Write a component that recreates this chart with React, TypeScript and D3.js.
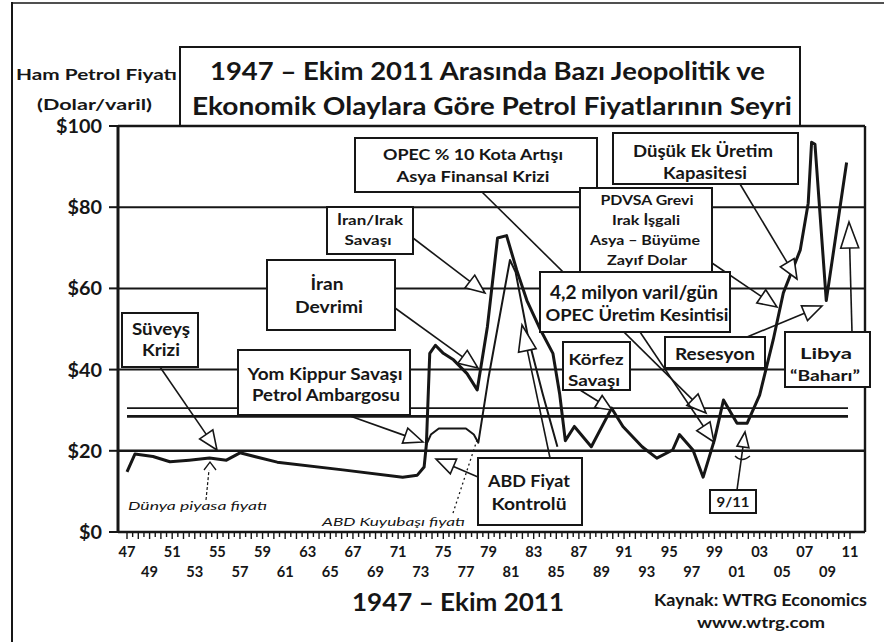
import React from 'react';
import * as d3 from 'd3';

// ---- data ----
const MAIN_YEARS = [
  1947.0, 1947.7, 1949.3, 1950.8, 1952.5, 1954.3, 1955.8, 1957.0, 1960.3, 1966.1,
  1971.4, 1972.7, 1973.3, 1973.5, 1973.8, 1974.3, 1975.0, 1975.9, 1977.1, 1978.0,
  1978.9, 1979.8, 1980.6, 1981.5, 1982.4, 1983.6, 1984.7, 1985.3, 1985.8, 1986.6,
  1988.1, 1989.9, 1990.9, 1992.6, 1993.9, 1995.3, 1995.9, 1997.1, 1998.0, 1999.0,
  1999.8, 2001.0, 2001.9, 2003.0, 2004.2, 2005.1, 2006.6, 2007.3, 2007.6, 2007.9,
  2008.9, 2010.7,
];
const MAIN_PRICES = [
  14.8, 19.2, 18.6, 17.3, 17.7, 18.2, 17.7, 19.5, 17.2, 15.3,
  13.5, 14.0, 16.0, 21.5, 44.0, 46.0, 44.0, 42.4, 39.0, 35.0,
  50.5, 72.4, 73.0, 64.5, 57.0, 49.8, 44.0, 34.0, 22.5, 26.0,
  21.0, 30.5, 26.0, 21.0, 18.2, 20.2, 24.0, 20.2, 13.5, 22.7,
  32.5, 26.8, 26.8, 33.7, 47.3, 58.9, 69.5, 81.0, 96.0, 95.5,
  57.0, 91.0,
];
// ABD kuyubaşı (wellhead) price
const WELL_YEARS = [1973.5, 1973.9, 1974.6, 1977.0, 1977.7, 1978.1, 1979.0, 1980.9, 1981.4, 1982.5, 1983.8, 1984.6, 1985.1];
const WELL_PRICES = [21.5, 24.0, 25.5, 25.5, 24.0, 22.0, 38.0, 67.0, 64.0, 48.0, 34.0, 26.0, 21.0];

const Y_TICKS = [0, 20, 40, 60, 80, 100];
const Y_TICK_LABELS = ['$0', '$20', '$40', '$60', '$80', '$100'];
const GRID_VALUES = [20, 40, 60, 80];
const BAND_VALUES = [28.5, 30.5];
const X_TOP_LABELS = ['47', '51', '55', '59', '63', '67', '71', '75', '79', '83', '87', '91', '95', '99', '03', '07', '11'];
const X_BOTTOM_LABELS = ['49', '53', '57', '61', '65', '69', '73', '77', '81', '85', '89', '93', '97', '01', '05', '09'];

const TITLE_LINES = [
  '1947 – Ekim 2011 Arasında Bazı Jeopolitik ve',
  'Ekonomik Olaylara Göre Petrol Fiyatlarının Seyri',
];

const FONT = "Lato, 'Open Sans', 'DejaVu Sans', sans-serif";
const INK = '#161616';

const labelYear = (l: string) => (+l < 40 ? 2000 + +l : 1900 + +l);

type Line = { t: string; x: number; y: number; w: number; fs: number };

function Box({ x, y, w, h, lines, sw = 2 }: { x: number; y: number; w: number; h: number; lines: Line[]; sw?: number }) {
  return (
    <g>
      <rect x={x} y={y} width={w} height={h} fill="#fff" stroke={INK} strokeWidth={sw} />
      {lines.map((l, i) => (
        <text key={i} x={l.x} y={l.y} textAnchor="middle" fontSize={l.fs} fontWeight={700}
          textLength={l.w} lengthAdjust="spacingAndGlyphs" fill={INK}>{l.t}</text>
      ))}
    </g>
  );
}

function Arrow({ x1, y1, x2, y2, head = 19, hw = 8, sw = 1.6 }: { x1: number; y1: number; x2: number; y2: number; head?: number; hw?: number; sw?: number }) {
  const dx = x2 - x1, dy = y2 - y1;
  const L = Math.hypot(dx, dy);
  const ux = dx / L, uy = dy / L;
  const bx = x2 - ux * head, by = y2 - uy * head;
  const px = -uy, py = ux;
  const pts = `${x2},${y2} ${bx + px * hw},${by + py * hw} ${bx - px * hw},${by - py * hw}`;
  return (
    <g>
      <line x1={x1} y1={y1} x2={bx} y2={by} stroke={INK} strokeWidth={sw} />
      <polygon points={pts} fill="#fff" stroke={INK} strokeWidth={sw} strokeLinejoin="miter" />
    </g>
  );
}

export default function App() {
  const W = 884, H = 642;
  const left = 118, right = 865, top = 126, bottom = 532;
  const x = d3.scaleLinear().domain([1947, 2011]).range([127, 850]);
  const y = d3.scaleLinear().domain([0, 100]).range([bottom, top]);

  const lineGen = d3.line<[number, number]>().x(d => x(d[0])).y(d => y(d[1]));
  const mainPath = lineGen(MAIN_YEARS.map((yr, i) => [yr, MAIN_PRICES[i]] as [number, number])) || '';
  const wellPath = lineGen(WELL_YEARS.map((yr, i) => [yr, WELL_PRICES[i]] as [number, number])) || '';

  const halfYearTicks = d3.range(1947, 2011.01, 0.5);

  return (
    <svg width={W} height={H} viewBox={`0 0 ${W} ${H}`}
      style={{ position: 'absolute', left: 0, top: 0, background: '#fff', fontFamily: FONT }}>
      <rect x={0} y={0} width={W} height={H} fill="#fff" />
      {/* outer frame */}
      <line x1={12} y1={2} x2={12} y2={H} stroke={INK} strokeWidth={2} />
      <line x1={12} y1={3} x2={W} y2={3} stroke={INK} strokeWidth={1.5} />

      {/* y-axis title */}
      <text x={16} y={80} fontSize={16} fontWeight={700} textLength={161} lengthAdjust="spacingAndGlyphs" fill={INK}>Ham Petrol Fiyatı</text>
      <text x={37} y={110} fontSize={16} fontWeight={700} textLength={115} lengthAdjust="spacingAndGlyphs" fill={INK}>(Dolar/varil)</text>

      {/* title box */}
      <rect x={180} y={47} width={620} height={79} fill="#fff" stroke={INK} strokeWidth={2} />
      <text x={210} y={80} fontSize={25} fontWeight={700} textLength={555} lengthAdjust="spacingAndGlyphs" fill={INK}>{TITLE_LINES[0]}</text>
      <text x={192} y={115} fontSize={25} fontWeight={700} textLength={600} lengthAdjust="spacingAndGlyphs" fill={INK}>{TITLE_LINES[1]}</text>

      {/* grid lines */}
      {GRID_VALUES.map(v => (
        <line key={v} x1={left} x2={right} y1={y(v)} y2={y(v)} stroke={INK} strokeWidth={v === 20 ? 2.6 : 2} />
      ))}
      {BAND_VALUES.map((v, i) => (
        <line key={'b' + v} x1={127} x2={848} y1={y(v)} y2={y(v)} stroke={INK} strokeWidth={i === 0 ? 2.8 : 1.8} />
      ))}

      {/* y ticks + labels */}
      {Y_TICKS.map((v, i) => (
        <g key={v}>
          <line x1={109} x2={left} y1={y(v)} y2={y(v)} stroke={INK} strokeWidth={2} />
          <text x={102} y={y(v) + 7} textAnchor="end" fontSize={19} fontWeight={700} fill={INK}
            textLength={Y_TICK_LABELS[i].length * 11.5} lengthAdjust="spacingAndGlyphs">{Y_TICK_LABELS[i]}</text>
        </g>
      ))}

      {/* x ticks */}
      {halfYearTicks.map(t => (
        <line key={t} x1={x(t)} x2={x(t)} y1={bottom + 1} y2={bottom + (t % 1 === 0 ? 7 : 5)} stroke={INK} strokeWidth={1.4} />
      ))}
      {X_TOP_LABELS.map(l => (
        <text key={'t' + l} x={x(labelYear(l))} y={557} textAnchor="middle" fontSize={15} fontWeight={700} fill={INK}
          textLength={17} lengthAdjust="spacingAndGlyphs">{l}</text>
      ))}
      {X_BOTTOM_LABELS.map(l => (
        <text key={'b' + l} x={x(labelYear(l))} y={577} textAnchor="middle" fontSize={15} fontWeight={700} fill={INK}
          textLength={17} lengthAdjust="spacingAndGlyphs">{l}</text>
      ))}

      {/* data lines */}
      <path d={wellPath} fill="none" stroke={INK} strokeWidth={2} strokeLinejoin="round" />
      <path d={mainPath} fill="none" stroke={INK} strokeWidth={3} strokeLinejoin="round" />

      {/* plot frame */}
      <line x1={left} x2={right} y1={top} y2={top} stroke={INK} strokeWidth={2.6} />
      <line x1={right} x2={right} y1={top} y2={bottom} stroke={INK} strokeWidth={2.4} />
      <line x1={left} x2={right} y1={bottom} y2={bottom} stroke={INK} strokeWidth={2.6} />
      <line x1={left} x2={left} y1={top - 1} y2={bottom + 1} stroke={INK} strokeWidth={3} />

      {/* pointer labels */}
      <text x={128} y={510} fontSize={12} fontStyle="italic" textLength={139} lengthAdjust="spacingAndGlyphs" fill={INK}>Dünya piyasa fiyatı</text>
      <line x1={206} y1={500} x2={209} y2={470} stroke={INK} strokeWidth={1.2} strokeDasharray="3,2" />
      <path d="M204 470 L210 462 L216 470" fill="none" stroke={INK} strokeWidth={1.3} />
      <text x={322} y={526} fontSize={12} fontStyle="italic" textLength={143} lengthAdjust="spacingAndGlyphs" fill={INK}>ABD Kuyubaşı fiyatı</text>
      <line x1={453} y1={513} x2={477} y2={440} stroke={INK} strokeWidth={1.3} strokeDasharray="2,3" />

      {/* arrows */}
      <Arrow x1={160} y1={367} x2={217} y2={450} />
      <Arrow x1={350} y1={416} x2={423} y2={442} />
      <Arrow x1={395} y1={308} x2={478} y2={368} />
      <Arrow x1={413} y1={238} x2={485} y2={293} />
      <Arrow x1={482} y1={192} x2={706} y2={413} />
      <Arrow x1={640} y1={332} x2={714} y2={442} />
      <Arrow x1={580} y1={390} x2={612} y2={410} head={16} hw={7} />
      <Arrow x1={747} y1={337} x2={822} y2={306} />
      <Arrow x1={712} y1={263} x2={777} y2={307} />
      <Arrow x1={740} y1={184} x2={797} y2={279} />
      <Arrow x1={852} y1={332} x2={849} y2={222} head={26} hw={9} />
      <Arrow x1={478} y1={477} x2={436} y2={459} />
      <Arrow x1={550} y1={458} x2={522} y2={325} head={26} hw={9} />
      <Arrow x1={737} y1={490} x2={745} y2={432} head={15} hw={6} />
      <path d="M735 456 Q742 463 750 456" fill="none" stroke={INK} strokeWidth={1.3} />

      {/* annotation boxes */}
      <Box x={122} y={313} w={76} h={54} lines={[
        { t: 'Süveyş', x: 161, y: 335, w: 58, fs: 17 },
        { t: 'Krizi', x: 161, y: 356, w: 38, fs: 17 }]} />
      <Box x={238} y={350} w={172} h={65} lines={[
        { t: 'Yom Kippur Savaşı', x: 325, y: 380, w: 155, fs: 17 },
        { t: 'Petrol Ambargosu', x: 326, y: 401, w: 148, fs: 17 }]} />
      <Box x={267} y={260} w={128} h={70} lines={[
        { t: 'İran', x: 327, y: 290, w: 33, fs: 17 },
        { t: 'Devrimi', x: 329, y: 313, w: 68, fs: 17 }]} />
      <Box x={327} y={207} w={86} h={47} lines={[
        { t: 'İran/Irak', x: 370, y: 225, w: 66, fs: 14 },
        { t: 'Savaşı', x: 368, y: 245, w: 47, fs: 14 }]} />
      <Box x={355} y={138} w={242} h={54} lines={[
        { t: 'OPEC % 10 Kota Artışı', x: 473, y: 160, w: 180, fs: 16 },
        { t: 'Asya Finansal Krizi', x: 473, y: 182, w: 153, fs: 16 }]} />
      <Box x={580} y={188} w={132} h={84} lines={[
        { t: 'PDVSA Grevi', x: 647, y: 205, w: 93, fs: 13 },
        { t: 'Irak İşgali', x: 646, y: 225, w: 68, fs: 13 },
        { t: 'Asya – Büyüme', x: 645, y: 245, w: 110, fs: 13 },
        { t: 'Zayıf Dolar', x: 647, y: 265, w: 80, fs: 13 }]} />
      <Box x={613} y={133} w={185} h={51} lines={[
        { t: 'Düşük Ek Üretim', x: 703, y: 157, w: 140, fs: 17 },
        { t: 'Kapasitesi', x: 705, y: 179, w: 84, fs: 17 }]} />
      <Box x={540} y={272} w={190} h={60} lines={[
        { t: '4,2 milyon varil/gün', x: 634, y: 299, w: 168, fs: 18 },
        { t: 'OPEC Üretim Kesintisi', x: 637, y: 321, w: 183, fs: 17 }]} />
      <Box x={563} y={342} w={67} h={48} lines={[
        { t: 'Körfez', x: 596, y: 365, w: 55, fs: 16 },
        { t: 'Savaşı', x: 594, y: 386, w: 52, fs: 16 }]} />
      <Box x={665} y={337} w={100} h={31} lines={[
        { t: 'Resesyon', x: 715, y: 360, w: 80, fs: 17 }]} />
      <Box x={785} y={332} w={85} h={55} lines={[
        { t: 'Libya', x: 826, y: 359, w: 52, fs: 16 },
        { t: '\u201CBaharı\u201D', x: 825, y: 381, w: 70, fs: 16 }]} />
      <Box x={478} y={458} w={104} h={67} lines={[
        { t: 'ABD Fiyat', x: 529, y: 487, w: 82, fs: 17 },
        { t: 'Kontrolü', x: 529, y: 510, w: 75, fs: 17 }]} />
      <Box x={710} y={490} w={46} h={23} lines={[
        { t: '9/11', x: 733, y: 507, w: 33, fs: 14 }]} />

      {/* footer */}
      <text x={352} y={611} fontSize={24} fontWeight={700} textLength={212} lengthAdjust="spacingAndGlyphs" fill={INK}>1947 – Ekim 2011</text>
      <text x={654} y={606} fontSize={17} fontWeight={700} textLength={213} lengthAdjust="spacingAndGlyphs" fill={INK}>Kaynak: WTRG Economics</text>
      <text x={697} y={628} fontSize={16} fontWeight={700} textLength={128} lengthAdjust="spacingAndGlyphs" fill={INK}>www.wtrg.com</text>
    </svg>
  );
}
